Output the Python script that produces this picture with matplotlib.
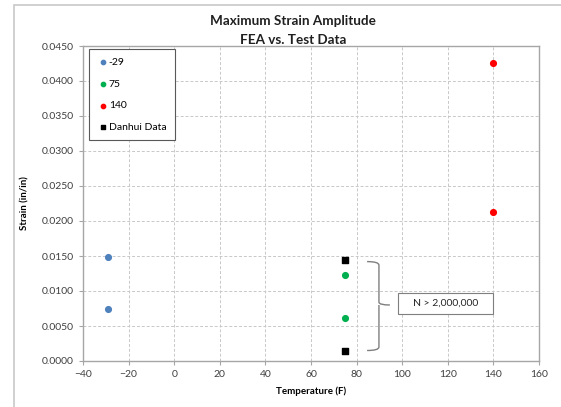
import numpy as np
import matplotlib
matplotlib.use('Agg')
import matplotlib.pyplot as plt
from matplotlib.path import Path
import matplotlib.patches as mpatches

plt.rcParams['font.family'] = ['Lato', 'DejaVu Sans']

# data
t_m29 = [-29, -29]
s_m29 = [0.0149, 0.0075]
t_75 = [75, 75]
s_75 = [0.0123, 0.0062]
t_140 = [140, 140]
s_140 = [0.0426, 0.0213]
t_dh = [75, 75]
s_dh = [0.0145, 0.0015]

xticks = np.arange(-40, 161, 20)
yticks = np.arange(0, 0.04501, 0.005)

fig = plt.figure(figsize=(5.61, 4.07), dpi=100)
ax = fig.add_axes([83/561, 1-361/407, 456/561, 315/407])

# outer chart border
fig.patches.append(mpatches.Rectangle((14/561, -0.1), 1.2, 1-5/407+0.1, transform=fig.transFigure,
                                      fill=False, edgecolor='#c8c8c8', linewidth=1.2))

ax.scatter(t_m29, s_m29, s=17, color='#4f81bd', label='-29', zorder=3)
ax.scatter(t_75, s_75, s=17, color='#00b050', label='75', zorder=3)
ax.scatter(t_140, s_140, s=17, color='#ff0000', label='140', zorder=3)
ax.scatter(t_dh, s_dh, s=22, color='black', marker='s', label='Danhui Data', zorder=3)

ax.set_xlim(-40, 160)
ax.set_ylim(0, 0.045)
ax.set_xticks(xticks)
ax.set_yticks(yticks)
ax.set_yticklabels(['%.4f' % v for v in yticks])
ax.grid(True, color='#c8c8c8', linestyle=(0, (3, 2)), linewidth=0.7)
ax.set_axisbelow(True)
for sp in ax.spines.values():
    sp.set_color('#a6a6a6')
    sp.set_linewidth(1.0)
ax.tick_params(labelsize=7.5, colors='#404040', length=3, width=0.8)
ax.tick_params(axis='both', color='#a6a6a6')

ax.set_xlabel('Temperature (F)', fontsize=7, fontweight='bold', labelpad=5)
ax.set_ylabel('Strain (in/in)', fontsize=7, fontweight='bold', labelpad=9)

fig.text(293/561, 1-21/407, 'Maximum Strain Amplitude', ha='center', va='center',
         fontsize=9.7, fontweight='bold', color='#202020')
fig.text(293/561, 1-40/407, 'FEA vs. Test Data', ha='center', va='center',
         fontsize=9.7, fontweight='bold', color='#202020')

leg = ax.legend(loc='upper left', bbox_to_anchor=(0.013, 0.99), borderaxespad=0,
                fontsize=7.5, labelspacing=1.2, handletextpad=0.0, handlelength=1.1,
                borderpad=0.8, fancybox=False, framealpha=1, markerscale=0.75)
leg.get_frame().set_edgecolor('#595959')
leg.get_frame().set_linewidth(0.8)

# brace grouping the 75F points
bx0, bx1, bx2 = 84.6, 89.8, 94.6
ytop, ymid, ybot = 0.0142, 0.0080, 0.0015
verts = [(bx0, ytop), (bx1, ytop), (bx1, ytop - 0.0005), (bx1, ymid + 0.0004),
         (bx1, ymid), (bx2, ymid),
         (bx1, ymid), (bx1, ymid - 0.0004), (bx1, ybot + 0.0005), (bx1, ybot), (bx0, ybot)]
codes = [Path.MOVETO, Path.CURVE3, Path.CURVE3, Path.LINETO, Path.CURVE3, Path.CURVE3,
         Path.MOVETO, Path.CURVE3, Path.LINETO, Path.CURVE3, Path.CURVE3]
ax.add_patch(mpatches.PathPatch(Path(verts, codes), fill=False, edgecolor='#7f7f7f', linewidth=1.0))

# callout box
ax.add_patch(mpatches.Rectangle((98.2, 0.0067), 41.6, 0.0030, facecolor='white',
                                edgecolor='#7f7f7f', linewidth=0.8, zorder=4))
ax.text(119.0, 0.0082, 'N > 2,000,000', ha='center', va='center', fontsize=7.5,
        color='#262626', zorder=5)

fig.savefig('out.png', dpi=100)
